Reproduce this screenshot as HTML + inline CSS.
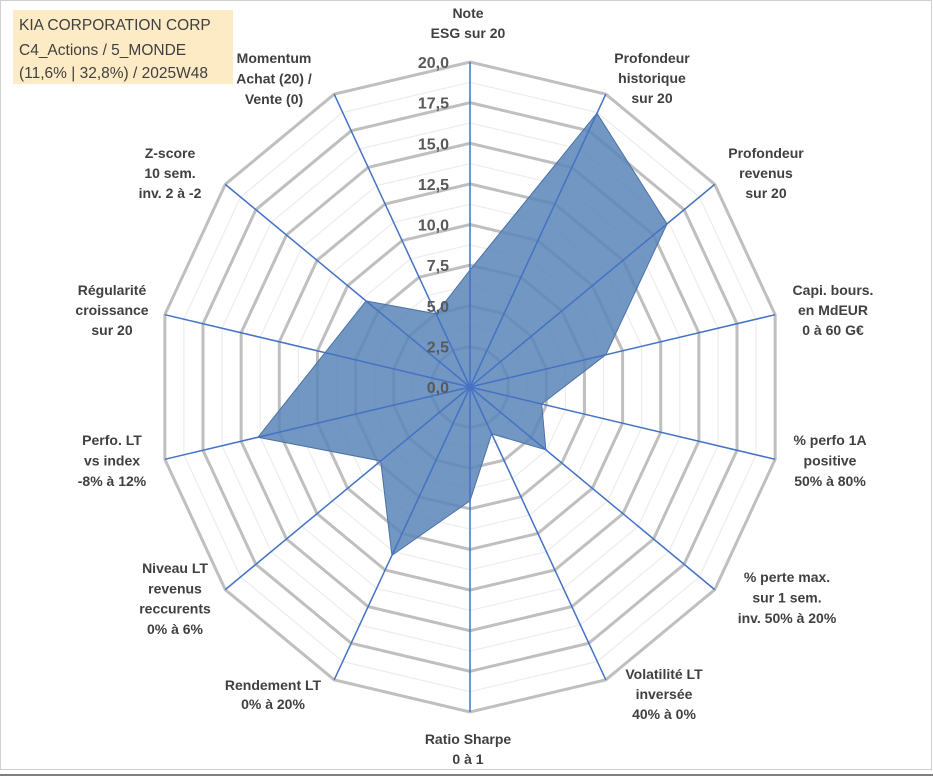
<!DOCTYPE html>
<html><head><meta charset="utf-8">
<style>
html,body{margin:0;padding:0;background:#fff;}
#wrap{position:relative;width:933px;height:776px;overflow:hidden;}
svg{position:absolute;left:0;top:0;}
</style></head>
<body>
<div id="wrap">
<svg id="chart" width="933" height="776" xmlns="http://www.w3.org/2000/svg">
  <rect x="0.5" y="0.5" width="931" height="769" fill="#fff" stroke="#d0d0d0"/>
  <line x1="0" y1="775" x2="933" y2="775" stroke="#7f7f7f" stroke-width="2"/>
  <g id="grid"></g>
  <g id="series"></g>
  <g id="axes"></g>
  <g id="ticks"></g>
  <g id="labels"></g>
  <rect x="13" y="10" width="220" height="74" fill="#fdebc6"/>
  <text x="19" y="30" font-family="Liberation Sans, sans-serif" font-size="15.5" fill="#404040">KIA CORPORATION CORP</text>
  <text x="19" y="55" font-family="Liberation Sans, sans-serif" font-size="15.5" fill="#404040">C4_Actions / 5_MONDE</text>
  <text x="19" y="78" font-family="Liberation Sans, sans-serif" font-size="15.5" fill="#404040">(11,6% | 32,8%) / 2025W48</text>
</svg>
</div>
<script>
const categories = [
 ["Note","ESG sur 20"],
 ["Profondeur","historique","sur 20"],
 ["Profondeur","revenus","sur 20"],
 ["Capi. bours.","en MdEUR","0 à 60 G€"],
 ["% perfo 1A","positive","50% à 80%"],
 ["% perte max.","sur 1 sem.","inv. 50% à 20%"],
 ["Volatilité LT","inversée","40% à 0%"],
 ["Ratio Sharpe","0 à 1"],
 ["Rendement LT","0% à 20%"],
 ["Niveau LT","revenus","reccurents","0% à 6%"],
 ["Perfo. LT","vs index","-8% à 12%"],
 ["Régularité","croissance","sur 20"],
 ["Z-score","10 sem.","inv. 2 à -2"],
 ["Momentum","Achat (20) /","Vente (0)"]
];
const values = [7.2, 18.7, 16.1, 8.9, 4.7, 6.2, 3.2, 7.0, 11.5, 7.3, 13.9, 9.5, 8.5, 5.0];
const tickValues = [0, 2.5, 5, 7.5, 10, 12.5, 15, 17.5, 20];
const tickLabels = ["0,0","2,5","5,0","7,5","10,0","12,5","15,0","17,5","20,0"];
const labelCenters = [[468,13,20],[652,58,20],[766,153,20],[833,290,20],[830,440,20.5],[787,577,20.5],[664,674,20],[468,739,20],[273,685,19],[175,568,20.3],[112,440,20.5],[112,290,20],[170,153,20],[274,58,20.5]];

const NS="http://www.w3.org/2000/svg";
const cx=470, cy=387, rx=313, ry=325, vmax=20;
const n=categories.length;
function ang(i){return i*2*Math.PI/n;}
function pt(i,v){const a=ang(i);return [cx+Math.sin(a)*rx*v/vmax, cy-Math.cos(a)*ry*v/vmax];}
function mk(tag,attrs,parent){const e=document.createElementNS(NS,tag);for(const k in attrs)e.setAttribute(k,attrs[k]);parent.appendChild(e);return e;}

const grid=document.getElementById('grid');
for(let s=1;s<=16;s++){
  const v=s*1.25;
  const pts=[];for(let i=0;i<n;i++)pts.push(pt(i,v).join(','));
  const major=s%2===0;
  const p=mk('polygon',{points:pts.join(' '),fill:'none',stroke:major?'#bfbfbf':'#ececec','stroke-width':major?3:1.2},grid);
  
  
}
const series=document.getElementById('series');
const sp=values.map((v,i)=>pt(i,v).join(',')).join(' ');
const poly=mk('polygon',{points:sp,fill:'#5a85b9','fill-opacity':'0.85',stroke:'#4a72a8','stroke-width':1},series);



const axes=document.getElementById('axes');
for(let i=0;i<n;i++){
  const [x,y]=pt(i,vmax);
  const l=mk('line',{x1:cx,y1:cy,x2:x,y2:y,stroke:'#4472c4','stroke-width':1.5},axes);
  
  
}
const ticks=document.getElementById('ticks');
tickValues.forEach((v,k)=>{
  const y=cy-ry*v/vmax;
  const t=mk('text',{x:449,y:y+6,'text-anchor':'end','font-family':'Liberation Sans, sans-serif','font-size':16,'font-weight':'bold',fill:'#595959'},ticks);
  t.textContent=tickLabels[k];
  
  
});
const labels=document.getElementById('labels');
categories.forEach((lines,i)=>{
  const [x,y0,lh]=labelCenters[i];
  const t=mk('text',{'text-anchor':'middle','font-family':'Liberation Sans, sans-serif','font-size':14,'font-weight':'bold',fill:'#404040'},labels);
  
  
  lines.forEach((ln,j)=>{
    const ts=mk('tspan',{x:x,y:y0+j*lh+5},t);
    ts.textContent=ln;
  });
});
</script>
</body></html>
